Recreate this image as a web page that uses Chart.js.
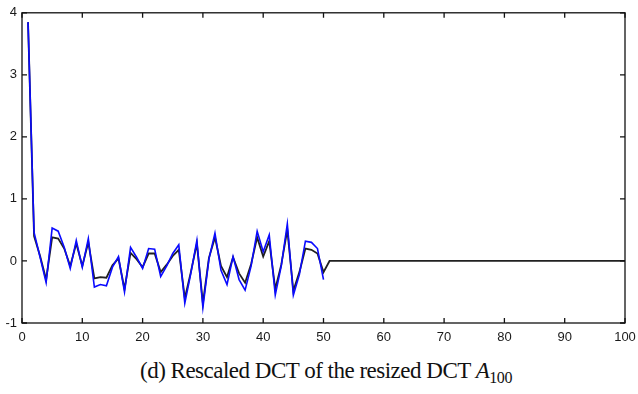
<!DOCTYPE html>
<html>
<head>
<meta charset="utf-8">
<script src="https://cdn.jsdelivr.net/npm/chart.js@4.4.1/dist/chart.umd.min.js"></script>
<style>
  html, body { margin: 0; padding: 0; background: #fff; width: 638px; height: 394px; overflow: hidden; }
  #wrap { position: relative; width: 638px; height: 394px; }
  #c { position: absolute; left: 0; top: 0; }
  #cap { position: absolute; left: 7px; top: 358px; width: 638px; text-align: center; line-height: 26px;
         font-family: "Liberation Serif", "DejaVu Serif", serif; font-size: 23px; color: #111; letter-spacing: -0.5px; }
  #cap sub { font-size: 16px; vertical-align: -5px; line-height: 0; letter-spacing: -0.4px; }
</style>
</head>
<body>
<div id="wrap">
  <canvas id="c" width="638" height="352"></canvas>
  <div id="cap">(d) Rescaled DCT of the resized DCT <i>A</i><sub>100</sub></div>
</div>
<script>
// Data
const xIndexBlue = [1,2,3,4,5,6,7,8,9,10,11,12,13,14,15,16,17,18,19,20,21,22,23,24,25,26,27,28,29,30,31,32,33,34,35,36,37,38,39,40,41,42,43,44,45,46,47,48,49,50];
const blueValues = [3.85,0.46,0.06,-0.35,0.53,0.48,0.22,-0.12,0.33,-0.10,0.36,-0.42,-0.38,-0.40,-0.10,0.07,-0.50,0.22,0.06,-0.12,0.20,0.19,-0.25,-0.08,0.12,0.26,-0.68,-0.20,0.33,-0.75,0.03,0.45,-0.15,-0.38,0.07,-0.30,-0.47,-0.08,0.48,0.15,0.42,-0.55,-0.08,0.60,-0.55,-0.22,0.32,0.30,0.20,-0.30];
const xIndexBlack = [1,2,3,4,5,6,7,8,9,10,11,12,13,14,15,16,17,18,19,20,21,22,23,24,25,26,27,28,29,30,31,32,33,34,35,36,37,38,39,40,41,42,43,44,45,46,47,48,49,50,51,52,53,54,55,56,57,58,59,60,61,62,63,64,65,66,67,68,69,70,71,72,73,74,75,76,77,78,79,80,81,82,83,84,85,86,87,88,89,90,91,92,93,94,95,96,97,98,99,100];
const blackValues = [3.85,0.40,0.08,-0.30,0.38,0.36,0.20,-0.08,0.28,-0.08,0.30,-0.28,-0.26,-0.27,-0.07,0.04,-0.45,0.13,0.03,-0.10,0.12,0.12,-0.18,-0.06,0.08,0.18,-0.60,-0.18,0.28,-0.68,0.05,0.38,-0.08,-0.26,0.06,-0.20,-0.35,-0.05,0.38,0.07,0.32,-0.45,-0.06,0.50,-0.48,-0.18,0.20,0.18,0.12,-0.18,
  0,0,0,0,0,0,0,0,0,0,0,0,0,0,0,0,0,0,0,0,0,0,0,0,0,0,0,0,0,0,0,0,0,0,0,0,0,0,0,0,0,0,0,0,0,0,0,0,0,0];
const xTicks = [0,10,20,30,40,50,60,70,80,90,100];
const yTicks = [-1,0,1,2,3,4];

const toPts = (xs, ys) => xs.map((x, i) => ({x: x, y: ys[i]}));

const framePlugin = {
  id: 'frame',
  afterDatasetsDraw(chart) {
    const {ctx, chartArea: a, scales} = chart;
    ctx.save();
    ctx.strokeStyle = '#111';
    ctx.lineWidth = 1.3;
    ctx.strokeRect(a.left, a.top, a.right - a.left, a.bottom - a.top);
    const L = 5;
    ctx.beginPath();
    xTicks.forEach(v => {
      const px = scales.x.getPixelForValue(v);
      ctx.moveTo(px, a.bottom); ctx.lineTo(px, a.bottom - L);
      ctx.moveTo(px, a.top); ctx.lineTo(px, a.top + L);
    });
    yTicks.forEach(v => {
      const py = scales.y.getPixelForValue(v);
      ctx.moveTo(a.left, py); ctx.lineTo(a.left + L, py);
      ctx.moveTo(a.right, py); ctx.lineTo(a.right - L, py);
    });
    ctx.stroke();
    ctx.restore();
  }
};

new Chart(document.getElementById('c'), {
  type: 'line',
  data: {
    datasets: [
      { data: toPts(xIndexBlue, blueValues), borderColor: '#0a0aff', borderWidth: 1.6, pointRadius: 0, tension: 0, fill: false },
      { data: toPts(xIndexBlack, blackValues), borderColor: 'rgba(20,20,20,0.95)', borderWidth: 1.8, pointRadius: 0, tension: 0, fill: false }
    ]
  },
  options: {
    responsive: false,
    animation: false,
    devicePixelRatio: 1,
    layout: { padding: { top: 11, right: 0, left: 0, bottom: 0 } },
    plugins: { legend: { display: false }, tooltip: { enabled: false } },
    scales: {
      x: {
        type: 'linear', min: 0, max: 100,
        afterBuildTicks: s => { s.ticks = xTicks.map(v => ({value: v})); },
        afterFit: s => { s.height = 29; s.paddingRight = 13; s.paddingLeft = 0; },
        grid: { display: false, drawTicks: false },
        border: { display: false },
        ticks: { color: '#1a1a1a', font: { family: 'Liberation Sans', size: 13 }, padding: 7, maxRotation: 0, autoSkip: false }
      },
      y: {
        type: 'linear', min: -1, max: 4,
        afterBuildTicks: s => { s.ticks = yTicks.map(v => ({value: v})); },
        afterFit: s => { s.width = 22; },
        grid: { display: false, drawTicks: false },
        border: { display: false },
        ticks: { color: '#1a1a1a', font: { family: 'Liberation Sans', size: 13 }, padding: 5, autoSkip: false }
      }
    }
  },
  plugins: [framePlugin]
});
</script>
</body>
</html>
